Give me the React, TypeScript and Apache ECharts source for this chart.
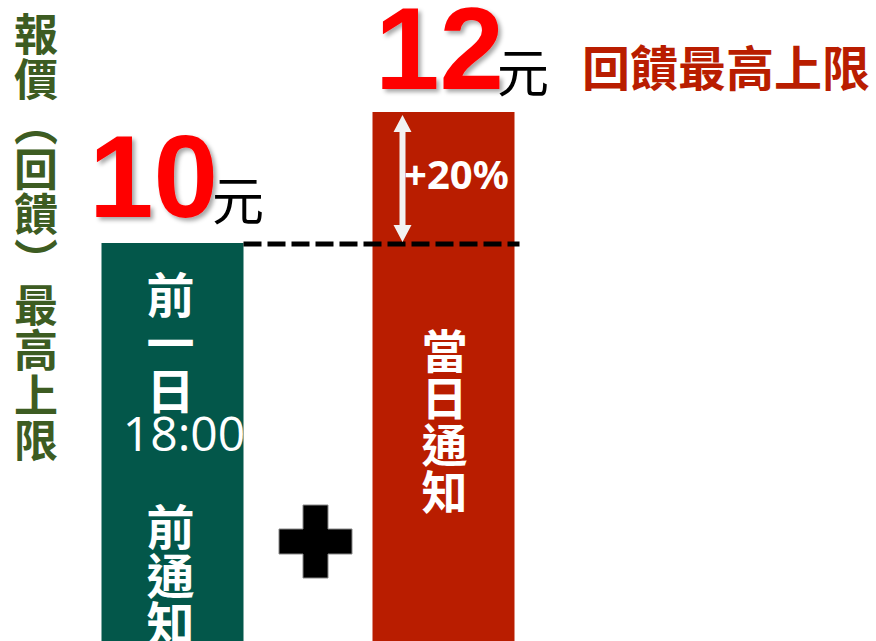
import React, { useEffect, useRef } from 'react';
import * as echarts from 'echarts';

const categories = ['前一日18:00前通知', '當日通知'];
const values = [10, 12];
const barColors = ['#03574A', '#B91D00'];
const valueLabels = ['10', '12'];
const unitLabel = '元';
const titleChars = ['報', '價', '︵', '回', '饋', '︶', '最', '高', '上', '限'];
const capLabel = '回饋最高上限';
const increaseLabel = '+20%';
const leftBarTop = ['前', '一', '日'];
const timeLabel = '18:00';
const leftBarBottom = ['前', '通', '知'];
const rightBarChars = ['當', '日', '通', '知'];

const CJK = '"Noto Sans CJK TC", "Noto Sans CJK SC", sans-serif';
const BAR_W = 142;

export default function App() {
  const ref = useRef<HTMLDivElement>(null);
  useEffect(() => {
    if (!ref.current) return;
    const chart = echarts.init(ref.current, undefined, { renderer: 'svg' });
    chart.setOption({
      animation: false,
      grid: { left: 37, top: 112, width: 542, height: 524 },
      xAxis: { type: 'category', data: categories, show: false },
      yAxis: { type: 'value', min: 4, max: 12, show: false },
      series: [
        {
          type: 'bar',
          clip: false,
          barWidth: BAR_W,
          z: 1,
          data: values.map((v, i) => ({ value: v, itemStyle: { color: barColors[i] } })),
        },
      ],
    });

    const pg = chart.convertToPixel({ gridIndex: 0 }, [categories[0], values[0]]) as number[];
    const pr = chart.convertToPixel({ gridIndex: 0 }, [categories[1], values[1]]) as number[];
    const xg = pg[0], yg = pg[1];
    const xr = pr[0], yr = pr[1];

    const txt = (text: string, x: number, y: number, o: any) => ({
      type: 'text',
      x,
      y,
      z: 100,
      silent: true,
      style: {
        text,
        align: o.align || 'left',
        textAlign: o.align || 'left',
        verticalAlign: o.va || 'top',
        textVerticalAlign: o.va || 'top',
        ...o.style,
      },
    });

    // arrow
    const ax = xr - 41;
    const aTop = yr + 3;
    const aBot = yg - 1;
    const hw = 9, hl = 17, sw = 3;
    const arrowPts = [
      [ax, aTop],
      [ax + hw, aTop + hl],
      [ax + sw, aTop + hl],
      [ax + sw, aBot - hl],
      [ax + hw, aBot - hl],
      [ax, aBot],
      [ax - hw, aBot - hl],
      [ax - sw, aBot - hl],
      [ax - sw, aTop + hl],
      [ax - hw, aTop + hl],
    ];

    // plus
    const cx = 315.5, cy = 541.5, L = 36.5, T = 12.5;
    const plusPts = [
      [cx - T, cy - L], [cx + T, cy - L], [cx + T, cy - T], [cx + L, cy - T],
      [cx + L, cy + T], [cx + T, cy + T], [cx + T, cy + L], [cx - T, cy + L],
      [cx - T, cy + T], [cx - L, cy + T], [cx - L, cy - T], [cx - T, cy - T],
    ];

    const bigNum = {
      fontFamily: '"Liberation Sans", Arial, sans-serif',
      fontWeight: 'bold',
      fontSize: 116,
      fill: '#FF0000',
      textShadowColor: 'rgba(0,0,0,0.35)',
      textShadowBlur: 4,
      textShadowOffsetX: 3,
      textShadowOffsetY: 3,
    };
    const unitStyle = { fontFamily: CJK, fontSize: 52, fill: '#000' };

    chart.setOption({
      graphic: [
        txt(titleChars.join('\n'), 36, 9, {
          align: 'center',
          style: { fontFamily: CJK, fontWeight: 'bold', fontSize: 44, lineHeight: 45.2, fill: '#3D5C22' },
        }),
        txt(valueLabels[0], 89, 177, { va: 'middle', style: bigNum }),
        txt(unitLabel, 212, 197, { va: 'middle', style: unitStyle }),
        txt(valueLabels[1], 375, 49, { va: 'middle', style: bigNum }),
        txt(unitLabel, 497, 69, { va: 'middle', style: unitStyle }),
        txt(capLabel, 582, 65, {
          va: 'middle',
          style: { fontFamily: CJK, fontWeight: 'bold', fontSize: 48, fill: '#B91D00' },
        }),
        {
          type: 'line',
          z: 100,
          silent: true,
          shape: { x1: xg + BAR_W / 2, y1: yg + 1, x2: xr + BAR_W / 2 + 5, y2: yg + 1 },
          style: { stroke: '#000', lineWidth: 5, lineDash: [18, 6] },
        },
        {
          type: 'polygon',
          z: 101,
          silent: true,
          shape: { points: arrowPts },
          style: { fill: '#F2F2F2' },
        },
        txt(increaseLabel, 404, 173, {
          va: 'middle',
          style: { fontFamily: '"Noto Sans", sans-serif', fontWeight: 'bold', fontSize: 40, fill: '#fff' },
        }),
        txt(leftBarTop.join('\n'), xg - 2, 268, {
          align: 'center',
          style: { fontFamily: CJK, fontWeight: 'bold', fontSize: 48, lineHeight: 48, fill: '#fff' },
        }),
        txt(timeLabel, 184, 432, {
          align: 'center',
          va: 'middle',
          style: { fontFamily: '"Open Sans", sans-serif', fontSize: 48, fill: '#fff' },
        }),
        txt(leftBarBottom.join('\n'), xg - 2, 500, {
          align: 'center',
          style: { fontFamily: CJK, fontWeight: 'bold', fontSize: 48, lineHeight: 48.5, fill: '#fff' },
        }),
        txt(rightBarChars.join('\n'), xr + 1, 324, {
          align: 'center',
          style: { fontFamily: CJK, fontWeight: 'bold', fontSize: 46, lineHeight: 47, fill: '#fff' },
        }),
        {
          type: 'polygon',
          z: 100,
          silent: true,
          shape: { points: plusPts },
          style: { fill: '#000', stroke: '#888', lineWidth: 1 },
        },
      ],
    });

    return () => chart.dispose();
  }, []);
  return (
    <div
      ref={ref}
      style={{ position: 'fixed', left: 0, top: 0, width: 876, height: 641, background: '#fff' }}
    />
  );
}
